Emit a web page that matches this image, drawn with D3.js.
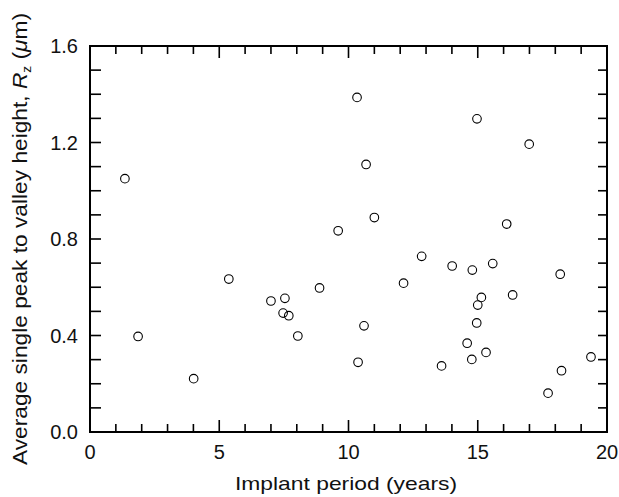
<!DOCTYPE html>
<html lang="en">
<head>
<meta charset="UTF-8">
<script src="https://cdn.jsdelivr.net/npm/d3@7"></script>
<style>
  body { margin: 0; background: #fff; }
  text { font-family: "Liberation Sans", Arial, sans-serif; fill: #111; }
</style>
</head>
<body>
<svg width="619" height="497"></svg>
<script>
  // implant period (years) and Rz (um)
  const years = [1.35, 1.86, 4.01, 5.37, 7.0, 7.54, 7.47, 7.69, 8.04, 8.88,
                 9.6, 10.33, 10.37, 10.6, 10.68, 11.0, 12.13, 12.83, 13.6, 14.01,
                 14.59, 14.77, 14.79, 14.96, 14.97, 15.0, 15.14, 15.32, 15.58, 16.12,
                 16.35, 16.99, 17.72, 18.19, 18.24, 19.38];
  const rz    = [1.05, 0.396, 0.221, 0.634, 0.543, 0.554, 0.493, 0.482, 0.398, 0.597,
                 0.834, 1.387, 0.289, 0.44, 1.109, 0.889, 0.617, 0.728, 0.274, 0.688,
                 0.368, 0.301, 0.671, 0.452, 1.298, 0.526, 0.558, 0.33, 0.698, 0.862,
                 0.568, 1.193, 0.161, 0.654, 0.254, 0.311];
  const xTicks = [0, 5, 10, 15, 20];
  const yTicks = [0, 0.4, 0.8, 1.2, 1.6];

  const svg = d3.select("svg");
  const x = d3.scaleLinear().domain([0, 20]).range([90, 607]);
  const y = d3.scaleLinear().domain([0, 1.6]).range([432, 46]);

  const xMinor = d3.range(0, 21, 1);
  const yMinor = d3.range(0, 17).map(d => d / 10);

  // frame
  svg.append("rect")
      .attr("x", x(0)).attr("y", y(1.6))
      .attr("width", x(20) - x(0)).attr("height", y(0) - y(1.6))
      .attr("fill", "none").attr("stroke", "#000").attr("stroke-width", 2);

  // inward ticks on all four sides
  const tk = svg.append("g").attr("stroke", "#000").attr("stroke-width", 1.6);
  tk.selectAll(".xb").data(xMinor).join("line")
      .attr("x1", d => x(d)).attr("x2", d => x(d))
      .attr("y1", y(0)).attr("y2", d => y(0) - (d % 5 === 0 ? 12 : 8));
  tk.selectAll(".xt").data(xMinor).join("line")
      .attr("x1", d => x(d)).attr("x2", d => x(d))
      .attr("y1", y(1.6)).attr("y2", d => y(1.6) + (d % 5 === 0 ? 12 : 8));
  tk.selectAll(".yl").data(yMinor).join("line")
      .attr("y1", d => y(d)).attr("y2", d => y(d))
      .attr("x1", x(0)).attr("x2", x(0) + 11);
  tk.selectAll(".yr").data(yMinor).join("line")
      .attr("y1", d => y(d)).attr("y2", d => y(d))
      .attr("x1", x(20)).attr("x2", x(20) - 9);

  // tick labels
  svg.selectAll(".xl").data(xTicks).join("text")
      .attr("x", d => x(d)).attr("y", y(0) + 27)
      .attr("text-anchor", "middle").attr("font-size", 20)
      .text(d => d);
  svg.selectAll(".ylab").data(yTicks).join("text")
      .attr("x", x(0) - 12).attr("y", d => y(d) + 7)
      .attr("text-anchor", "end").attr("font-size", 20)
      .text(d => d.toFixed(1));

  // axis titles (the printed face is wider than Arial, so stretch to length)
  svg.append("text")
      .attr("x", 235).attr("y", 490)
      .attr("font-size", 19)
      .attr("textLength", 222).attr("lengthAdjust", "spacingAndGlyphs")
      .text("Implant period (years)");

  const yt = svg.append("text")
      .attr("transform", "translate(27,465) rotate(-90)")
      .attr("font-size", 20)
      .attr("textLength", 452).attr("lengthAdjust", "spacingAndGlyphs");
  yt.append("tspan").text("Average single peak to valley height, ");
  yt.append("tspan").attr("font-style", "italic").text("R");
  yt.append("tspan").attr("font-size", 12).attr("dy", 4).text("z");
  yt.append("tspan").attr("dy", -4).text(" (");
  yt.append("tspan").attr("font-style", "italic").text("\u03bc");
  yt.append("tspan").text("m)");

  // points
  svg.append("g").selectAll("circle").data(years).join("circle")
      .attr("cx", d => x(d))
      .attr("cy", (d, i) => y(rz[i]))
      .attr("r", 4.3)
      .attr("fill", "none").attr("stroke", "#000").attr("stroke-width", 1.1);
</script>
</body>
</html>
